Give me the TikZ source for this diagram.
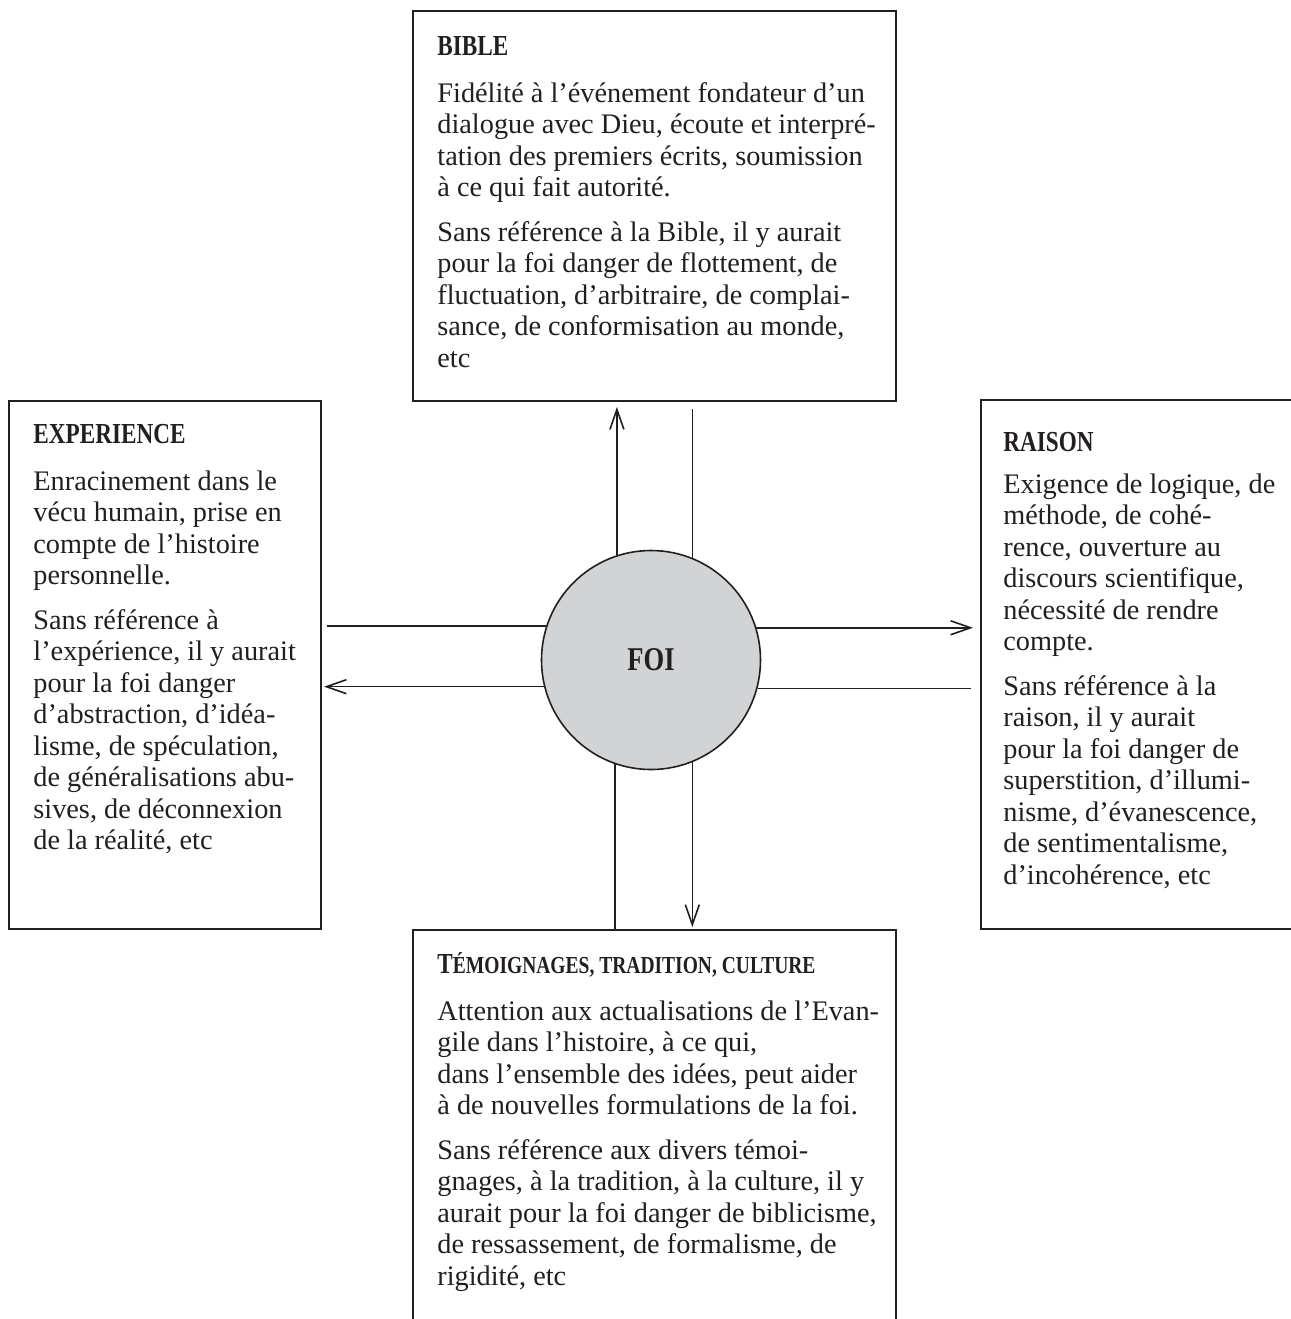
\documentclass[tikz,border=0pt]{standalone}
\usepackage{fontspec}
\setmainfont{Liberation Serif}
\newfontfamily\titlefont[FakeStretch=0.8]{Liberation Serif}
\usetikzlibrary{arrows.meta}
\definecolor{ink}{HTML}{231F20}
\definecolor{foigray}{HTML}{D1D3D4}
\newcommand\fsc[1]{{\fontsize{12.2pt}{14pt}\selectfont #1}}
\begin{document}
\begin{tikzpicture}[x=0.5pt,y=-0.5pt,
  boxstyle/.style={draw=ink,line width=1pt,rectangle,inner sep=0pt,anchor=north west},
  bodytext/.style={anchor=north west,inner sep=0pt,align=left,text=ink,
    font=\fontsize{14.15pt}{15.75pt}\selectfont},
  titletext/.style={anchor=base west,inner sep=0pt,text=ink,
    font=\titlefont\bfseries\fontsize{14.5pt}{16pt}\selectfont},
  conn/.style={draw=ink,line width=0.8pt},
  tip/.style={-{Straight Barb[length=10pt,width=7pt,line width=0.8pt]}}]
\useasboundingbox (0,0) rectangle (1291,1319);
\clip (0,0) rectangle (1291,1319);
\fill[white] (0,0) rectangle (1291,1319);

% boxes
\node[boxstyle,minimum width=241.5pt,minimum height=195pt] (bible) at (412,10) {};
\node[boxstyle,minimum width=156pt,minimum height=264pt] (exp) at (8,400) {};
\node[boxstyle,minimum width=165pt,minimum height=264.5pt] (rai) at (980,399) {};
\node[boxstyle,minimum width=241.5pt,minimum height=205.5pt] (tem) at (412,929) {};

% centre
\node[circle,draw=ink,line width=0.8pt,fill=foigray,minimum size=109.5pt,inner sep=0pt,
  text=ink,font=\titlefont\bfseries\fontsize{16.6pt}{18pt}\selectfont] (foi) at (651,660) {FOI};

% texts
\node[titletext] (bibleT) at (437,55) {BIBLE};
\node[bodytext] (bibleB) at (437,78) {\rule{0pt}{12pt}Fidélité à l’événement fondateur d’un\\
dialogue avec Dieu, écoute et interpré-\\
tation des premiers écrits, soumission\\
à ce qui fait autorité.\\[6.5pt]
Sans référence à la Bible, il y aurait\\
pour la foi danger de flottement, de\\
fluctuation, d’arbitraire, de complai-\\
sance, de conformisation au monde,\\
etc};

\node[titletext] (expT) at (33,443) {EXPERIENCE};
\node[bodytext] (expB) at (33,466) {\rule{0pt}{12pt}Enracinement dans le\\
vécu humain, prise en\\
compte de l’histoire\\
personnelle.\\[6.5pt]
Sans référence à\\
l’expérience, il y aurait\\
pour la foi danger\\
d’abstraction, d’idéa-\\
lisme, de spéculation,\\
de généralisations abu-\\
sives, de déconnexion\\
de la réalité, etc};

\node[titletext] (raiT) at (1003,451) {RAISON};
\node[bodytext] (raiB) at (1003,469) {\rule{0pt}{12pt}Exigence de logique, de\\
méthode, de cohé-\\
rence, ouverture au\\
discours scientifique,\\
nécessité de rendre\\
compte.\\[6.5pt]
Sans référence à la\\
raison, il y aurait\\
pour la foi danger de\\
superstition, d’illumi-\\
nisme, d’évanescence,\\
de sentimentalisme,\\
d’incohérence, etc};

\node[titletext] (temT) at (437,973) {T\fsc{ÉMOIGNAGES, TRADITION, CULTURE}};
\node[bodytext] (temB) at (437,996) {\rule{0pt}{12pt}Attention aux actualisations de l’Evan-\\
gile dans l’histoire, à ce qui,\\
dans l’ensemble des idées, peut aider\\
à de nouvelles formulations de la foi.\\[6.5pt]
Sans référence aux divers témoi-\\
gnages, à la tradition, à la culture, il y\\
aurait pour la foi danger de biblicisme,\\
de ressassement, de formalisme, de\\
rigidité, etc};

% connectors
\draw[conn,tip,shorten >=2.5pt] (foi.108.6) -- (foi.108.6 |- bible.south);
\draw[conn,shorten <=3.5pt] (foi.68 |- bible.south) -- (foi.68);
\draw[conn,shorten >=2.5pt] (foi.162.5) -- (foi.162.5 -| exp.east);
\draw[conn,tip,shorten >=1pt] (foi.194.8) -- (foi.194.8 -| exp.east);
\draw[conn,tip,shorten >=3.5pt] (foi.17.5) -- (foi.17.5 -| rai.west);
\draw[conn,shorten >=4.5pt] (foi.345.2) -- (foi.345.2 -| rai.west);
\draw[conn] (foi.251.4) -- (foi.251.4 |- tem.north);
\draw[conn,tip,shorten >=1pt] (foi.292) -- (foi.292 |- tem.north);
\end{tikzpicture}
\end{document}
